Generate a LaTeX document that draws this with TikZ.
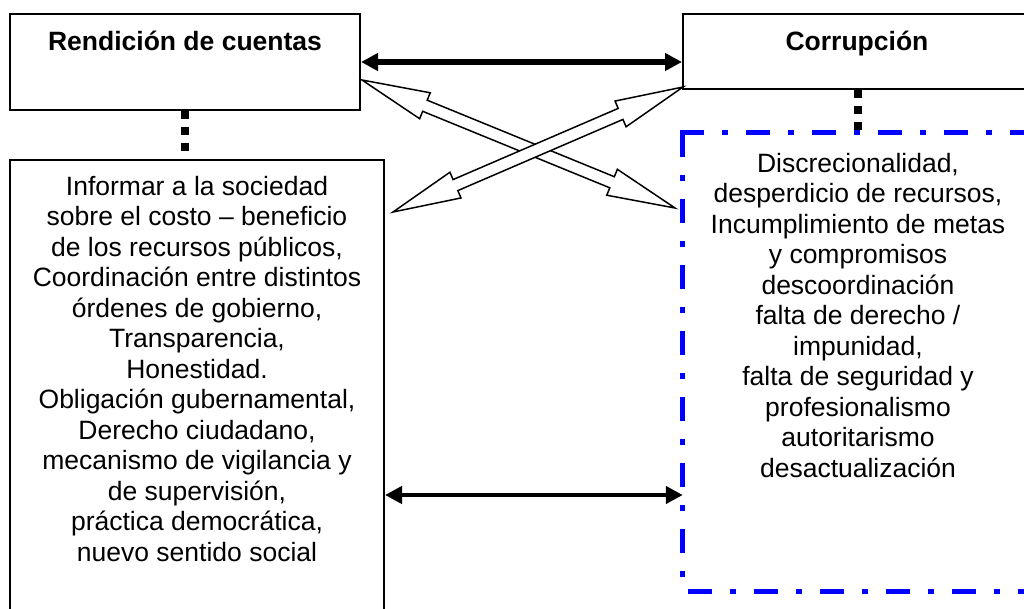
\documentclass[tikz,border=0pt]{standalone}
\usepackage{fontspec}
\setmainfont{Liberation Sans}
\usetikzlibrary{arrows.meta,calc}
\newcommand\hollowpair[2]{%
  \filldraw[hollow] (#1)
   -- ($(#1)!68pt!(#2)!14pt!90:(#2)$)
   -- ($(#1)!68pt!(#2)!6pt!90:(#2)$)
   -- ($(#2)!68pt!(#1)!6pt!-90:(#1)$)
   -- ($(#2)!68pt!(#1)!14pt!-90:(#1)$)
   -- (#2)
   -- ($(#2)!68pt!(#1)!14pt!90:(#1)$)
   -- ($(#2)!68pt!(#1)!6pt!90:(#1)$)
   -- ($(#1)!68pt!(#2)!6pt!-90:(#2)$)
   -- ($(#1)!68pt!(#2)!14pt!-90:(#2)$)
   -- cycle;}
\begin{document}
\begin{tikzpicture}[x=1pt,y=-1pt,
  box/.style={draw=black,line width=2pt,inner sep=0pt,fill=white},
  bluebox/.style={inner sep=0pt},
  blueline/.style={draw=blue,line width=5pt,dash pattern=on 24pt off 18pt on 6pt off 18pt},
  ttl/.style={font=\bfseries\fontsize{26.5}{30.5}\selectfont,inner sep=0pt,anchor=base},
  body/.style={font=\fontsize{26.5}{30.5}\selectfont,align=center,inner sep=0pt,anchor=north},
  dots/.style={line width=8pt,dash pattern=on 8pt off 8pt},
  bigarrow/.style={line width=5.5pt,{Triangle[length=17pt,width=17pt]}-{Triangle[length=17pt,width=17pt]}},
  lowarrow/.style={line width=4.5pt,{Triangle[length=17pt,width=17pt]}-{Triangle[length=17pt,width=17pt]}},
  hollow/.style={draw=black,line width=1.5pt,fill=white,line join=miter}
]
\fill[white] (0,0) rectangle (1024,608);
\clip (0,0) rectangle (1024,608);
% boxes
\node[box,minimum width=350pt,minimum height=96pt] (tl) at (185,62) {};
\node[box,minimum width=350pt,minimum height=75pt] (tr) at (858,51.5) {};
\node[box,minimum width=374pt,minimum height=470pt] (bl) at (197,395) {};
\node[bluebox,minimum width=350pt,minimum height=458pt] (cr) at (858,362) {};
\draw[blueline] (cr.north west) -- (cr.south west);
\draw[blueline] ([xshift=-2.5pt]cr.north west) -- (cr.north east);
\draw[blueline] ([xshift=5pt]cr.south west) -- (cr.south east);
% texts
\node[ttl] (tlt) at (185,50) {Rendición de cuentas};
\node[ttl] (trt) at (857,50) {Corrupción};
\node[body] (blt) at (197,175.7) {Informar a la sociedad\\
sobre el costo – beneficio\\
de los recursos públicos,\\
Coordinación entre distintos\\
órdenes de gobierno,\\
Transparencia,\\
Honestidad.\\
Obligación gubernamental,\\
Derecho ciudadano,\\
mecanismo de vigilancia y\\
de supervisión,\\
práctica democrática,\\
nuevo sentido social};
\node[body] (crt) at (858,152.7) {Discrecionalidad,\\
desperdicio de recursos,\\
Incumplimiento de metas\\
y compromisos\\
descoordinación\\
falta de derecho /\\
impunidad,\\
falta de seguridad y\\
profesionalismo\\
autoritarismo\\
desactualización};
% dotted links
\draw[dots] (tl.south) -- (tl.south |- bl.north);
\draw[dots] (tr.south) -- ([yshift=2.5pt]tr.south |- cr.north);
% arrows
\draw[bigarrow] (tl.east) -- (tl.east -| tr.west);
\coordinate (lowrow) at (0,495);
\draw[lowarrow] (bl.east |- lowrow) -- (cr.west |- lowrow);
\coordinate (h1a) at (362,80);
\coordinate (h1b) at (675,208);
\coordinate (h2a) at (683,87);
\coordinate (h2b) at (393,212);
\hollowpair{h1a}{h1b}
\hollowpair{h2a}{h2b}
\end{tikzpicture}
\end{document}
